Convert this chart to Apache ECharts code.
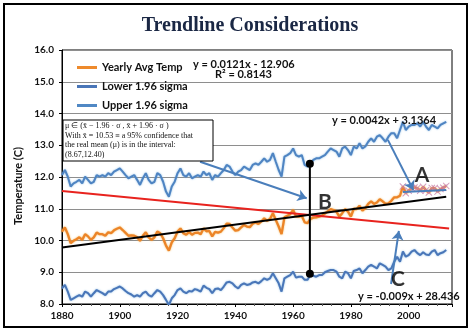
<!DOCTYPE html>
<html>
<head>
    <meta charset="utf-8">
    <title>Trendline Considerations</title>
    <script src="https://cdn.jsdelivr.net/npm/echarts@6/dist/echarts.min.js"></script>
    <style>
        body, html { margin: 0; padding: 0; background: #fff; }
        #main { width: 473px; height: 331px; }
    </style>
</head>
<body>
    <div id="main"></div>
    <script>
        // yearly values, 1880..2013
        var firstYear = 1880, lastYear = 2013;
        var avgTemp = [
            10.28, 10.41, 10.20, 9.92, 9.99, 10.04, 10.10, 10.02, 10.20, 10.13,
            10.02, 10.10, 10.25, 10.20, 10.20, 10.15, 10.26, 10.23, 10.32, 10.37,
            10.41, 10.33, 10.24, 10.15, 10.16, 10.15, 10.10, 9.99, 10.15, 10.26,
            10.10, 10.02, 10.10, 10.28, 10.23, 10.07, 9.84, 9.68, 9.94, 10.07,
            10.28, 10.38, 10.23, 10.18, 10.27, 10.18, 10.24, 10.25, 10.20, 10.38,
            10.29, 10.30, 10.13, 10.27, 10.25, 10.28, 10.39, 10.53, 10.52, 10.41,
            10.31, 10.33, 10.41, 10.49, 10.44, 10.42, 10.53, 10.57, 10.52, 10.60,
            10.70, 10.62, 10.68, 10.86, 10.65, 10.44, 10.20, 10.73, 10.78, 10.83,
            10.96, 10.76, 10.75, 10.78, 10.57, 10.55, 10.68, 10.72, 10.73, 10.75,
            10.78, 10.85, 10.92, 10.99, 10.96, 10.91, 10.75, 10.86, 10.99, 10.91,
            10.75, 11.00, 10.99, 11.09, 10.94, 11.02, 11.15, 11.23, 11.15, 11.20,
            11.30, 11.23, 11.15, 11.17, 11.25, 11.36, 11.36, 11.41, 11.70, 11.49,
            11.57, 11.65, 11.67, 11.65, 11.57, 11.69, 11.58, 11.51, 11.65, 11.65,
            11.54, 11.62, 11.66, 11.72
        ];
        var lowerSigma = [
            8.49, 8.60, 8.39, 8.13, 8.18, 8.23, 8.28, 8.23, 8.39, 8.34,
            8.23, 8.34, 8.44, 8.39, 8.34, 8.28, 8.39, 8.39, 8.47, 8.51,
            8.55, 8.49, 8.41, 8.34, 8.30, 8.23, 8.28, 8.23, 8.34, 8.39,
            8.28, 8.23, 8.34, 8.44, 8.39, 8.28, 8.13, 7.97, 8.18, 8.28,
            8.44, 8.49, 8.39, 8.34, 8.41, 8.39, 8.47, 8.44, 8.39, 8.58,
            8.51, 8.47, 8.34, 8.47, 8.49, 8.44, 8.55, 8.68, 8.70, 8.65,
            8.55, 8.49, 8.60, 8.65, 8.60, 8.62, 8.68, 8.70, 8.65, 8.72,
            8.81, 8.76, 8.81, 8.97, 8.81, 8.65, 8.39, 8.81, 8.86, 8.91,
            9.02, 8.83, 8.86, 8.86, 8.76, 8.76, 8.93, 8.89, 8.86, 8.91,
            8.91, 9.00, 9.04, 9.07, 9.07, 9.02, 8.86, 8.81, 9.02, 8.97,
            8.81, 9.04, 9.07, 9.12, 8.97, 9.07, 9.18, 9.23, 9.18, 9.12,
            9.28, 9.23, 9.18, 9.07, 9.12, 9.33, 9.49, 9.33, 9.65, 9.49,
            9.54, 9.65, 9.70, 9.60, 9.54, 9.63, 9.56, 9.54, 9.65, 9.70,
            9.54, 9.60, 9.63, 9.70
        ];
        var upperSigma = [
            12.06, 12.22, 12.01, 11.70, 11.80, 11.85, 11.91, 11.80, 12.01, 11.91,
            11.80, 11.85, 12.06, 12.01, 12.06, 12.01, 12.12, 12.06, 12.17, 12.22,
            12.27, 12.17, 12.06, 11.96, 12.01, 12.06, 11.91, 11.75, 11.96, 12.12,
            11.91, 11.80, 11.85, 12.12, 12.06, 11.85, 11.54, 11.38, 11.70, 11.85,
            12.12, 12.27, 12.06, 12.01, 12.12, 11.96, 12.01, 12.06, 12.01, 12.17,
            12.06, 12.12, 11.91, 12.06, 12.01, 12.12, 12.22, 12.38, 12.33, 12.17,
            12.06, 12.17, 12.22, 12.33, 12.27, 12.22, 12.38, 12.43, 12.38, 12.48,
            12.59, 12.48, 12.54, 12.75, 12.48, 12.22, 12.01, 12.64, 12.69, 12.75,
            12.90, 12.69, 12.64, 12.69, 12.38, 12.33, 12.43, 12.54, 12.59, 12.59,
            12.64, 12.69, 12.80, 12.90, 12.85, 12.80, 12.64, 12.90, 12.96, 12.85,
            12.69, 12.96, 12.90, 13.06, 12.90, 12.96, 13.11, 13.22, 13.11, 13.27,
            13.32, 13.22, 13.11, 13.27, 13.38, 13.38, 13.22, 13.48, 13.74, 13.48,
            13.59, 13.64, 13.64, 13.69, 13.59, 13.74, 13.59, 13.48, 13.64, 13.59,
            13.53, 13.64, 13.69, 13.74
        ];
        var recentFrom = 1998;   // points marked with crosses

        // trend lines, end points
        var trendAvg = [[1880, 9.78], [2013, 11.38]];
        var trendRed = [[1880, 11.56], [2014, 10.38]];
        var trendRecent = [[1998, 11.53], [2013, 11.59]];

        // annotations
        var rangeBar = [[1965.8, 12.42], [1965.8, 8.95]];
        var arrows = [
            [[1927.8, 12.48], [1964.7, 11.33]],
            [[1992.8, 13.17], [2001.6, 11.59]],
            [[1993.9, 8.63], [1996.6, 10.30]]
        ];
        var letters = [[2004.6, 12.06, 'A'], [1971.0, 11.21, 'B'], [1996.3, 8.79, 'C']];

        var xTicks = { min: 1880, max: 2015, interval: 20 };
        var yTicks = { min: 8, max: 16, interval: 1 };

        function pairs(vals) {
            var out = [];
            for (var i = 0; i < vals.length; i++) out.push([firstYear + i, vals[i]]);
            return out;
        }
        var recentPts = pairs(avgTemp).filter(function (p) { return p[0] >= recentFrom; });

        var sans = 'Lato, "Liberation Sans", sans-serif';
        var crossPath = 'path://M1,0L5,4L9,0L10,1L6,5L10,9L9,10L5,6L1,10L0,9L4,5L0,1Z';

        var myChart = echarts.init(document.getElementById('main'));

        var option = {
            backgroundColor: '#fff',
            animation: false,
            grid: { left: 62, right: 21, top: 50, bottom: 27, show: true, borderColor: '#000', borderWidth: 1, outerBoundsMode: 'none' },
            legend: {
                data: ['Yearly Avg Temp', 'Lower 1.96 sigma', 'Upper 1.96 sigma'],
                orient: 'vertical',
                left: 72, top: 57,
                itemGap: 8, itemWidth: 20, itemHeight: 3,
                icon: 'rect',
                textStyle: { fontFamily: sans, fontWeight: 'bold', fontSize: 11, color: '#111' }
            },
            xAxis: {
                type: 'value',
                min: xTicks.min, max: xTicks.max, interval: xTicks.interval,
                axisLine: { lineStyle: { color: '#000' } },
                axisTick: { show: true, length: 3, lineStyle: { color: '#000' } },
                minorTick: { show: true, splitNumber: 6, length: 2, lineStyle: { color: '#555' } },
                splitLine: { show: false },
                axisLabel: {
                    margin: 7, showMaxLabel: false, fontFamily: sans, fontWeight: 'bold', fontSize: 10, color: '#111',
                    formatter: function (v) { return v % 20 === 0 ? String(v) : ''; }
                }
            },
            yAxis: {
                type: 'value',
                min: yTicks.min, max: yTicks.max, interval: yTicks.interval,
                axisLine: { show: true, lineStyle: { color: '#000' } },
                axisTick: { show: true, length: 3, lineStyle: { color: '#000' } },
                splitLine: { lineStyle: { color: '#8e8e8e', width: 1 } },
                axisLabel: { margin: 8, fontFamily: sans, fontWeight: 'bold', fontSize: 10, color: '#111', formatter: function (v) { return v.toFixed(1); } }
            },
            series: [
                {
                    name: 'Yearly Avg Temp', type: 'line', data: pairs(avgTemp), showSymbol: false, z: 3,
                    itemStyle: { color: '#ee8a2c' },
                    lineStyle: { color: '#ec8428', width: 2.3, shadowColor: 'rgba(240,170,60,0.8)', shadowBlur: 2 }
                },
                {
                    name: 'Lower 1.96 sigma', type: 'line', data: pairs(lowerSigma), showSymbol: false, z: 3,
                    itemStyle: { color: '#4a76b8' },
                    lineStyle: { color: '#4a76b8', width: 2, shadowColor: 'rgba(110,170,220,0.8)', shadowBlur: 2 }
                },
                {
                    name: 'Upper 1.96 sigma', type: 'line', data: pairs(upperSigma), showSymbol: false, z: 3,
                    itemStyle: { color: '#5088c4' },
                    lineStyle: { color: '#4f84c2', width: 2, shadowColor: 'rgba(110,170,220,0.8)', shadowBlur: 2 }
                },
                {
                    name: 'Recent', type: 'scatter', data: recentPts, symbol: crossPath, symbolSize: 7, z: 4,
                    itemStyle: { color: '#c880ac' }
                },
                {
                    name: 'Recent trend', type: 'line', data: trendRecent, showSymbol: false, z: 5,
                    lineStyle: { color: '#4a7ebb', width: 2 }
                },
                {
                    name: 'Red trend', type: 'line', data: trendRed, showSymbol: false, z: 5,
                    lineStyle: { color: '#e8231e', width: 2 }
                },
                {
                    name: 'Avg trend', type: 'line', data: trendAvg, showSymbol: false, z: 5,
                    lineStyle: { color: '#000', width: 2 },
                    markLine: {
                        silent: true, symbol: ['none', 'arrow'], symbolSize: 9,
                        label: { show: false },
                        lineStyle: { color: '#4a7ebb', width: 2, type: 'solid' },
                        data: arrows.map(function (a) { return [{ coord: a[0] }, { coord: a[1] }]; })
                    }
                },
                {
                    name: 'Range', type: 'line', data: rangeBar, symbol: 'circle', symbolSize: 8, showSymbol: true, z: 6,
                    itemStyle: { color: '#000' },
                    lineStyle: { color: '#000', width: 2 }
                },
                {
                    name: 'Letters', type: 'scatter', data: letters, symbolSize: 1, z: 7,
                    itemStyle: { color: 'transparent' },
                    label: {
                        show: true, position: 'inside', formatter: function (p) { return p.value[2]; },
                        fontFamily: sans, fontWeight: 'bold', fontSize: 21, color: '#000'
                    }
                }
            ],
            graphic: [
                { type: 'rect', shape: { x: 4, y: 4, width: 463, height: 323 }, style: { fill: 'none', stroke: '#000', lineWidth: 2 }, z: 100 },
                { type: 'text', style: { text: 'Trendline Considerations', x: 250, y: 26, textAlign: 'center', textVerticalAlign: 'middle', font: 'bold 20px "Liberation Serif", serif', fill: '#1a2744' } },
                { type: 'text', rotation: Math.PI / 2, x: 18, y: 186, style: { text: 'Temperature (C)', x: 0, y: 0, textAlign: 'center', textVerticalAlign: 'middle', font: 'bold 11px ' + sans, fill: '#111' } },
                { type: 'text', style: { text: 'y = 0.0121x - 12.906', x: 193, y: 64, textVerticalAlign: 'middle', font: 'bold 11px ' + sans, fill: '#111' }, z: 50 },
                { type: 'text', style: { text: 'R\u00b2 = 0.8143', x: 215, y: 74, textVerticalAlign: 'middle', font: 'bold 11px ' + sans, fill: '#111' }, z: 50 },
                { type: 'text', style: { text: 'y = 0.0042x + 3.1364', x: 332, y: 120, textVerticalAlign: 'middle', font: 'bold 11px ' + sans, fill: '#111' }, z: 50 },
                { type: 'text', style: { text: 'y = -0.009x + 28.436', x: 358, y: 296, textVerticalAlign: 'middle', font: 'bold 11px ' + sans, fill: '#111' }, z: 50 },
                { type: 'rect', shape: { x: 63, y: 120, width: 150, height: 41 }, style: { fill: '#fff', stroke: '#000', lineWidth: 1 }, z: 50 },
                {
                    type: 'text', z: 51,
                    style: {
                        text: '\u03bc \u2208 (x\u0304 \u2212 1.96 \u00b7 \u03c3 , x\u0304 + 1.96 \u00b7 \u03c3 )\nWith x\u0304 = 10.53 \u2261 a 95% confidence that\nthe real mean (\u03bc) is in the interval:\n(8.67,12.40)',
                        x: 65, y: 121, font: '8px "Liberation Serif", serif', lineHeight: 9.7, fill: '#111'
                    }
                }
            ]
        };

        myChart.setOption(option);
    </script>
</body>
</html>
